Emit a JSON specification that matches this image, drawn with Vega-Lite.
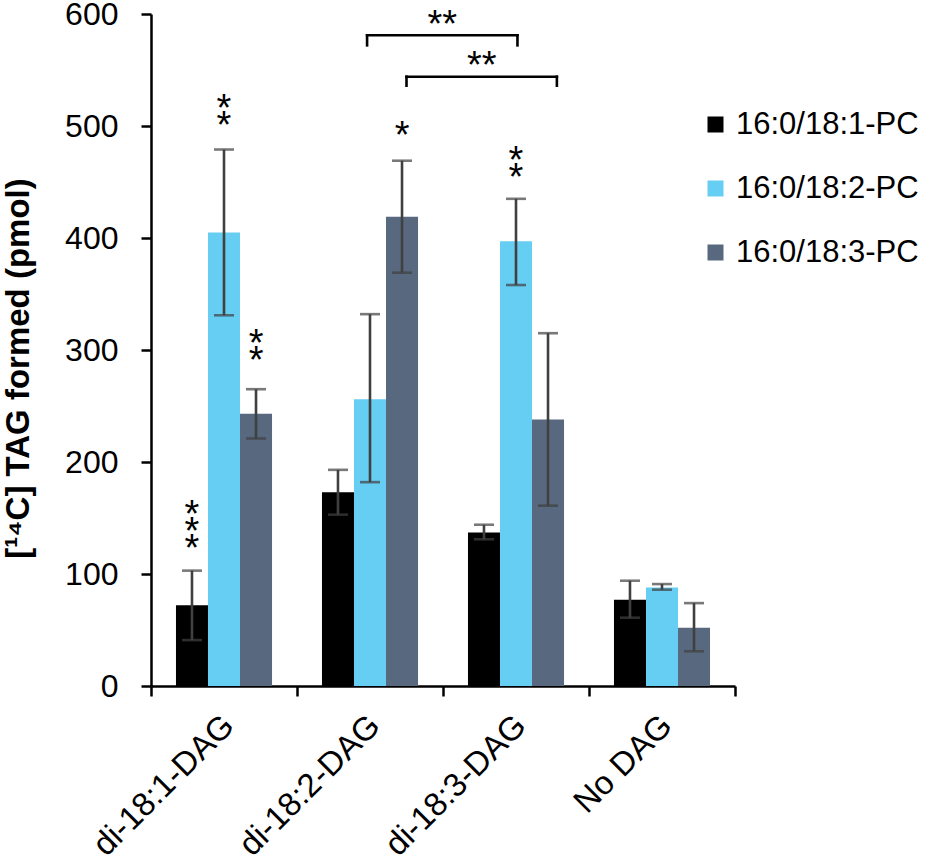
{
  "$schema": "https://vega.github.io/schema/vega-lite/v6.json",
  "width": 584,
  "height": 672,
  "autosize": {"type": "none"},
  "padding": {"left": 151, "top": 14, "right": 195, "bottom": 174},
  "background": "white",
  "view": {"stroke": null},
  "config": {
    "font": "Liberation Sans",
    "axis": {
      "domainColor": "black",
      "domainWidth": 2.5,
      "tickColor": "black",
      "tickWidth": 2.5,
      "tickSize": 10,
      "grid": false,
      "labelColor": "black",
      "labelFont": "Liberation Sans",
      "titleColor": "black",
      "titleFont": "Liberation Sans"
    }
  },
  "layer": [
    {
      "layer": [
        {
          "data": {
            "values": [
              {"dag": "di-18:1-DAG", "pc": "16:0/18:1-PC", "tag": 72, "lo": 41, "hi": 103},
              {"dag": "di-18:1-DAG", "pc": "16:0/18:2-PC", "tag": 405, "lo": 331, "hi": 479},
              {"dag": "di-18:1-DAG", "pc": "16:0/18:3-PC", "tag": 243, "lo": 221, "hi": 265},
              {"dag": "di-18:2-DAG", "pc": "16:0/18:1-PC", "tag": 173, "lo": 153, "hi": 193},
              {"dag": "di-18:2-DAG", "pc": "16:0/18:2-PC", "tag": 256, "lo": 182, "hi": 332},
              {"dag": "di-18:2-DAG", "pc": "16:0/18:3-PC", "tag": 419, "lo": 369, "hi": 469},
              {"dag": "di-18:3-DAG", "pc": "16:0/18:1-PC", "tag": 137, "lo": 131, "hi": 144},
              {"dag": "di-18:3-DAG", "pc": "16:0/18:2-PC", "tag": 397, "lo": 358, "hi": 435},
              {"dag": "di-18:3-DAG", "pc": "16:0/18:3-PC", "tag": 238, "lo": 161, "hi": 315},
              {"dag": "No DAG", "pc": "16:0/18:1-PC", "tag": 77, "lo": 61, "hi": 94},
              {"dag": "No DAG", "pc": "16:0/18:2-PC", "tag": 88, "lo": 86, "hi": 91},
              {"dag": "No DAG", "pc": "16:0/18:3-PC", "tag": 52, "lo": 31, "hi": 74}
            ]
          },
          "layer": [
            {
              "mark": {"type": "bar"},
              "encoding": {
                "x": {
                  "field": "dag",
                  "type": "nominal",
                  "sort": ["di-18:1-DAG", "di-18:2-DAG", "di-18:3-DAG", "No DAG"],
                  "scale": {"paddingInner": 0, "paddingOuter": 0},
                  "axis": {
                    "title": null,
                    "tickBand": "extent",
                    "labelAngle": -45,
                    "labelFontSize": 33,
                    "labelLimit": 400,
                    "labelPadding": 13,
                    "labelOffset": -7
                  }
                },
                "xOffset": {
                  "field": "pc",
                  "type": "nominal",
                  "scale": {"paddingInner": 0, "paddingOuter": 0.78}
                },
                "y": {
                  "field": "tag",
                  "type": "quantitative",
                  "scale": {"domain": [0, 600], "nice": false},
                  "axis": {
                    "title": "[¹⁴C] TAG formed (pmol)",
                    "titleFontSize": 33,
                    "titleFontWeight": "bold",
                    "titleX": -116,
                    "titleY": 354,
                    "values": [0, 100, 200, 300, 400, 500, 600],
                    "labelFontSize": 32,
                    "labelPadding": 23
                  }
                },
                "color": {
                  "field": "pc",
                  "type": "nominal",
                  "scale": {
                    "domain": ["16:0/18:1-PC", "16:0/18:2-PC", "16:0/18:3-PC"],
                    "range": ["#000000", "#66cdf3", "#58697f"]
                  },
                  "legend": {
                    "title": null,
                    "orient": "none",
                    "legendX": 549,
                    "legendY": 95,
                    "padding": 0,
                    "symbolType": "square",
                    "symbolSize": 256,
                    "symbolStrokeWidth": 0,
                    "labelFontSize": 31,
                    "labelLimit": 400,
                    "labelColor": "black",
                    "labelOffset": 5,
                    "rowPadding": 32
                  }
                }
              }
            },
            {
              "mark": {"type": "rule", "color": "#404040", "strokeWidth": 2.6},
              "encoding": {
                "x": {"field": "dag", "type": "nominal", "sort": ["di-18:1-DAG", "di-18:2-DAG", "di-18:3-DAG", "No DAG"]},
                "xOffset": {"field": "pc", "type": "nominal"},
                "y": {"field": "lo", "type": "quantitative"},
                "y2": {"field": "hi"}
              }
            },
            {
              "mark": {"type": "tick", "color": "#404040", "thickness": 2.6, "size": 20},
              "encoding": {
                "x": {"field": "dag", "type": "nominal", "sort": ["di-18:1-DAG", "di-18:2-DAG", "di-18:3-DAG", "No DAG"]},
                "xOffset": {"field": "pc", "type": "nominal"},
                "y": {"field": "lo", "type": "quantitative"}
              }
            },
            {
              "mark": {"type": "tick", "color": "#404040", "thickness": 2.6, "size": 20},
              "encoding": {
                "x": {"field": "dag", "type": "nominal", "sort": ["di-18:1-DAG", "di-18:2-DAG", "di-18:3-DAG", "No DAG"]},
                "xOffset": {"field": "pc", "type": "nominal"},
                "y": {"field": "hi", "type": "quantitative"}
              }
            }
          ]
        },
        {
          "data": {
            "values": [
              {"dag": "di-18:1-DAG", "pc": "16:0/18:1-PC", "ypos": 161, "stars": "*\n*\n*"},
              {"dag": "di-18:1-DAG", "pc": "16:0/18:2-PC", "ypos": 523, "stars": "*\n*"},
              {"dag": "di-18:1-DAG", "pc": "16:0/18:3-PC", "ypos": 313, "stars": "*\n*"},
              {"dag": "di-18:2-DAG", "pc": "16:0/18:3-PC", "ypos": 499, "stars": "*"},
              {"dag": "di-18:3-DAG", "pc": "16:0/18:2-PC", "ypos": 477, "stars": "*\n*"}
            ]
          },
          "mark": {
            "type": "text",
            "fontSize": 38,
            "lineBreak": "\n",
            "lineHeight": 17,
            "baseline": "middle",
            "align": "center",
            "dy": 10,
            "color": "black"
          },
          "encoding": {
            "x": {"field": "dag", "type": "nominal", "sort": ["di-18:1-DAG", "di-18:2-DAG", "di-18:3-DAG", "No DAG"]},
            "xOffset": {"field": "pc", "type": "nominal"},
            "y": {"field": "ypos", "type": "quantitative"},
            "text": {"field": "stars"}
          }
        }
      ]
    },
    {
      "layer": [
        {
          "data": {
            "values": [
              {"bx": 1.48, "bx2": 2.51, "by": 581, "by2": 581},
              {"bx": 1.48, "bx2": 1.48, "by": 572, "by2": 581},
              {"bx": 2.51, "bx2": 2.51, "by": 572, "by2": 581},
              {"bx": 1.75, "bx2": 2.78, "by": 544, "by2": 544},
              {"bx": 1.75, "bx2": 1.75, "by": 536, "by2": 544},
              {"bx": 2.78, "bx2": 2.78, "by": 536, "by2": 544}
            ]
          },
          "mark": {"type": "rule", "color": "black", "strokeWidth": 2.6, "strokeCap": "square"},
          "encoding": {
            "x": {"field": "bx", "type": "quantitative", "scale": {"domain": [0, 4], "nice": false, "zero": false}, "axis": null},
            "x2": {"field": "bx2"},
            "y": {"field": "by", "type": "quantitative"},
            "y2": {"field": "by2"}
          }
        },
        {
          "data": {
            "values": [
              {"bx": 1.995, "by": 598, "stars": "**"},
              {"bx": 2.265, "by": 562, "stars": "**"}
            ]
          },
          "mark": {"type": "text", "fontSize": 38, "baseline": "middle", "align": "center", "dy": 10, "color": "black"},
          "encoding": {
            "x": {"field": "bx", "type": "quantitative", "scale": {"domain": [0, 4], "nice": false, "zero": false}, "axis": null},
            "y": {"field": "by", "type": "quantitative"},
            "text": {"field": "stars"}
          }
        }
      ]
    }
  ],
  "resolve": {"scale": {"x": "independent", "xOffset": "independent"}, "axis": {"x": "independent"}}
}
